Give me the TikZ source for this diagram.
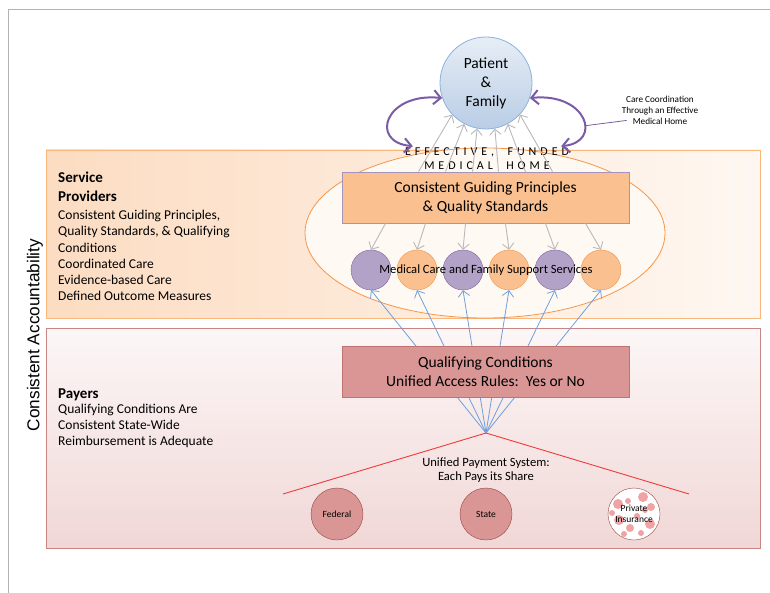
\documentclass[tikz,border=0pt]{standalone}
\usepackage{xcolor}
\usepackage{fontspec}
\setmainfont{Carlito}
\newfontfamily\sidefont{Liberation Sans}
\usepackage{tikz}
\usetikzlibrary{shapes.geometric, arrows.meta, positioning, calc}

\definecolor{peach}{HTML}{FAC090}
\definecolor{orangeline}{HTML}{F79646}
\definecolor{lilac}{HTML}{B3A2C7}
\definecolor{lilacline}{HTML}{8064A2}
\definecolor{rosy}{HTML}{D99694}
\definecolor{rosyline}{HTML}{B0504D}
\definecolor{skyfill}{HTML}{B9CDE5}
\definecolor{skyline}{HTML}{8EB1DC}
\definecolor{linkblue}{HTML}{6F9FDB}
\definecolor{coordpurple}{HTML}{7A5CA6}
\definecolor{payred}{HTML}{F03B3B}
\definecolor{dotpink}{HTML}{EFA3A3}

\begin{document}
\begin{tikzpicture}[x=1pt, y=-1pt,
    patient/.style={circle, draw=skyline, thick, top color=skyfill!35, bottom color=skyfill, minimum size=92pt, inner sep=0pt, align=center, font=\fontsize{15.5}{19}\selectfont},
    principle/.style={rectangle, draw=lilacline!70, thick, fill=peach, minimum width=287pt, minimum height=51pt, align=center, font=\fontsize{15.5}{19}\selectfont},
    access/.style={rectangle, draw=rosyline!80, thick, fill=rosy, minimum width=287pt, minimum height=51pt, align=center, font=\fontsize{15.5}{19}\selectfont},
    svcp/.style={circle, draw=lilacline, fill=lilac, minimum size=40pt, inner sep=0pt},
    svco/.style={circle, draw=orangeline, fill=peach, minimum size=40pt, inner sep=0pt},
    payer/.style={circle, draw=rosyline!85!black, fill=rosy, minimum size=52pt, inner sep=0pt, align=center, font=\fontsize{9.5}{11}\selectfont},
    head/.style={anchor=north west, align=left, inner sep=1pt, font=\bfseries\fontsize{15}{19}\selectfont},
    body/.style={anchor=north west, align=left, inner sep=1pt, font=\fontsize{13.5}{16.2}\selectfont},
    spaced/.style={inner sep=1pt, font=\fontsize{12}{12}\selectfont\addfontfeature{LetterSpace=33}},
    note/.style={align=center, inner sep=1pt, font=\fontsize{9.2}{11}\selectfont},
    grayarrow/.style={-{Straight Barb[length=2mm]}, gray!55, line width=0.9pt},
    bluearrow/.style={-{Straight Barb[length=2mm]}, linkblue, line width=0.8pt},
    purplearrow/.style={{Straight Barb[length=2.5mm]}-{Straight Barb[length=2.5mm]}, coordpurple, line width=2pt},
    redline/.style={payred, line width=0.9pt}
]
\useasboundingbox (0,0) rectangle (770,593);

% Page frame
\draw[gray!60] (8,593) -- (8,9) -- (770,9);

% Panels
\draw[orangeline!70, left color=peach!55, right color=peach!12] (46,150) rectangle (760,318);
\draw[rosyline!70, top color=rosy!8, bottom color=rosy!38] (46,328) rectangle (760,548);

% Side title
\node[rotate=90, font=\sidefont\fontsize{17.2}{20}\selectfont] (acct) at (35,335) {Consistent Accountability};

% Service providers
\node[ellipse, draw=orangeline, thick, fill=peach!10, minimum width=360pt, minimum height=170pt] (home) at (485,233) {};
\node[head] (sphead) at (57,171) {Service\\Providers};
\node[body] (spbody) at ([yshift=-6pt]sphead.south west) {Consistent Guiding Principles,\\Quality Standards, \& Qualifying\\Conditions\\Coordinated Care\\Evidence-based Care\\Defined Outcome Measures};

\node[principle] (gp) at (485.5,197.5) {Consistent Guiding Principles\\\& Quality Standards};

\foreach \i/\kind in {1/svcp,2/svco,3/svcp,4/svco,5/svcp,6/svco}
  \node[\kind] (c\i) at ({325+46*\i},270) {};
\node[font=\fontsize{12.6}{14}\selectfont] (svc) at (486,270) {Medical Care and Family Support Services};

\foreach \i/\dx in {1/-100,2/-60,3/-20,4/20,5/60,6/100}
  \draw[grayarrow] ([xshift=\dx pt]gp.south) -- (c\i.north);

% Patient
\node[patient] (pf) at (486,83) {Patient\\\&\\Family};
\node[spaced] (eff) at (487,152) {EFFECTIVE, \ FUNDED};
\node[spaced] (med) at (487,166) {MEDICAL \ HOME};

\foreach \dx/\a in {-67/223,-40/242,-13/259,13/281,40/298,67/317}
  \draw[grayarrow] ([xshift=\dx pt]gp.north) -- (pf.\a);

\draw[purplearrow] (pf.199) .. controls +(-57,-6) and +(-44,-4) .. ([xshift=9pt]eff.north west);
\draw[purplearrow] (pf.341) .. controls +(57,-6) and +(42,-4) .. coordinate[pos=0.6] (rarc) ([xshift=-9pt]eff.north east);

\node[note] (cc) at (660,110) {Care Coordination\\Through an Effective\\Medical Home};
\draw[coordpurple, line width=0.8pt] (rarc) -- ([shift={(6pt,5pt)}]cc.south west);

% Payers
\node[head] (payhead) at (57,388) {Payers};
\node[body] (paybody) at (payhead.south west) {Qualifying Conditions Are\\Consistent State-Wide\\Reimbursement is Adequate};

\coordinate (apex) at (486,433);
\foreach \i in {1,...,6}
  \draw[bluearrow] (apex) -- (c\i.south);

\node[access] (qa) at (485.5,371.5) {Qualifying Conditions\\Unified Access Rules:\ \ Yes or No};

\coordinate (lfoot) at (283,494);
\coordinate (rfoot) at (689,494);
\draw[redline] (lfoot) -- (apex) -- (rfoot);
\node[font=\fontsize{12.6}{14}\selectfont, align=center] (ups) at (486,470) {Unified Payment System:\\Each Pays its Share};

\node[payer] (fed) at (337,514) {Federal};
\node[payer] (st) at (486,514) {State};
\node[payer, fill=white, path picture={
    \foreach \dx/\dy/\r in {-16/-10/5,-6/-13/3,9/-17/5,17/-7/4,-15/6/5,-4/14/4,7/19/3,16/10/5,3/2/3,-22/-1/3,11/-4/3,-10/20/3}
      \fill[dotpink] ($(path picture bounding box.center)+(\dx,\dy)$) circle (\r);
  }] (pi) at (634,514) {Private\\Insurance};

\end{tikzpicture}
\end{document}
